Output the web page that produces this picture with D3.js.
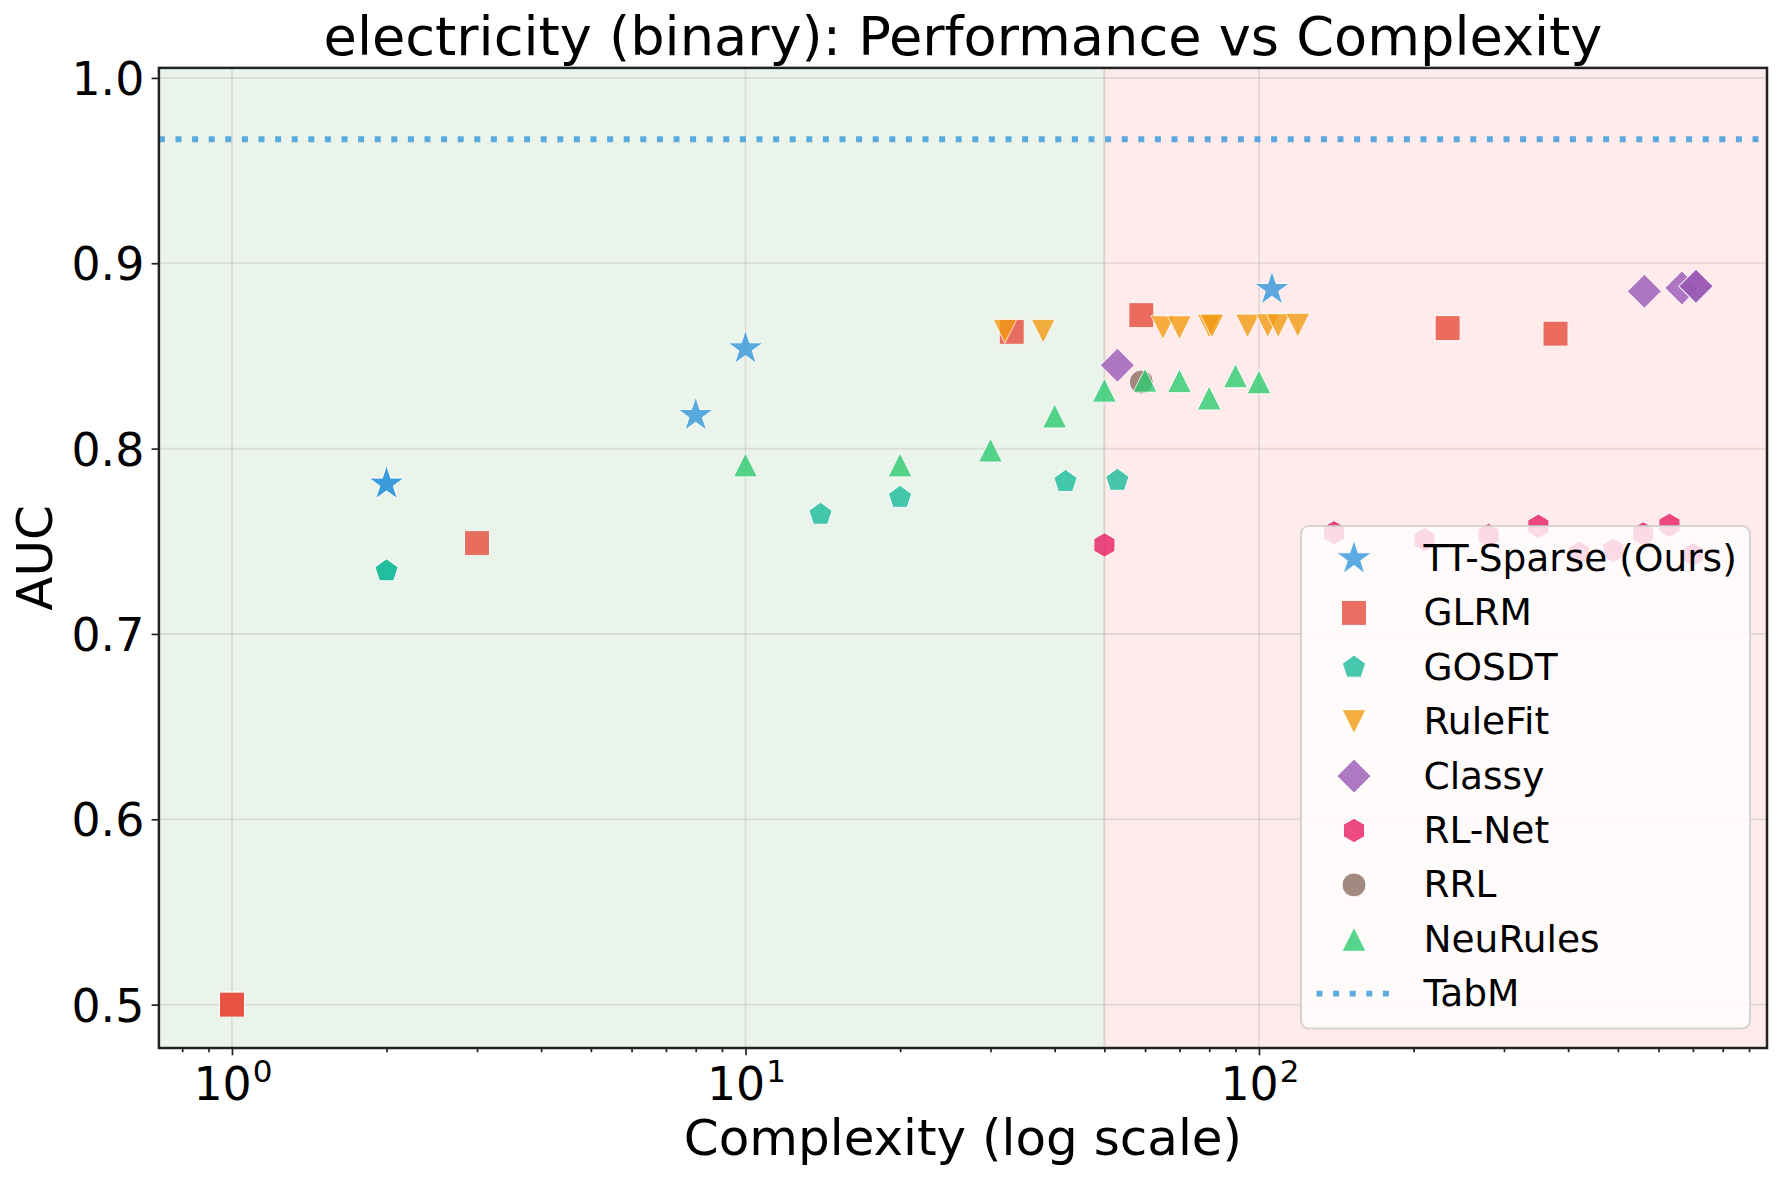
<!DOCTYPE html>
<html><head><meta charset="utf-8">
<script src="https://cdn.jsdelivr.net/npm/d3@7"></script>
<style>body{margin:0;background:#fff;} svg{display:block;font-family:"DejaVu Sans",sans-serif;}</style>
</head><body><svg id="chart" width="1783" height="1181"></svg>
<script>
// ---------- data ----------
const seriesNames = ["TT-Sparse (Ours)", "GLRM", "GOSDT", "RuleFit", "Classy", "RL-Net", "RRL", "NeuRules"];
const ttSparseX = [2, 2, 8, 10, 106];
const ttSparseY = [0.781, 0.781, 0.818, 0.854, 0.886];
const glrmX = [1, 1, 3, 33, 59, 233, 378];
const glrmY = [0.5, 0.5, 0.749, 0.863, 0.872, 0.865, 0.862];
const gosdtX = [2, 2, 14, 20, 42, 53];
const gosdtY = [0.734, 0.734, 0.7645, 0.7736, 0.7822, 0.7828];
const ruleFitX = [32, 38, 65, 70, 80, 81, 95, 104, 109, 119];
const ruleFitY = [0.8633, 0.8633, 0.8652, 0.8652, 0.8661, 0.8661, 0.8661, 0.8663, 0.8663, 0.8666];
const classyX = [53, 563, 666, 708, 710];
const classyY = [0.845, 0.8849, 0.8867, 0.8876, 0.8876];
const rlNetX = [50, 140, 210, 280, 350, 420, 490, 560, 630, 700];
const rlNetY = [0.748, 0.7546, 0.7509, 0.7532, 0.7581, 0.7435, 0.7451, 0.754, 0.7586, 0.7428];
const rrlX = [59];
const rrlY = [0.8359];
const neuRulesX = [10, 20, 30, 40, 50, 60, 70, 80, 90, 100];
const neuRulesY = [0.7912, 0.7912, 0.7992, 0.8176, 0.8315, 0.8369, 0.8366, 0.8273, 0.8393, 0.836];
const tabmLabel = "TabM";
const tabmAUC = 0.9669;
const xTickValues = [1, 10, 100];
const xTickExponents = ["0", "1", "2"];
const yTickValues = [0.5, 0.6, 0.7, 0.8, 0.9, 1.0];
const simpleThreshold = 50;
const titleText = "electricity (binary): Performance vs Complexity";
const xLabelText = "Complexity (log scale)";
const yLabelText = "AUC";

// ---------- styles ----------
const colors = ["#3498db", "#e74c3c", "#1abc9c", "#f39c12", "#9b59b6", "#e91e63", "#8d6e63", "#2ecc71"];
const shapes = ["star", "square", "pentagon", "tridown", "diamond", "hexagon", "circle", "triup"];
const seriesX = [ttSparseX, glrmX, gosdtX, ruleFitX, classyX, rlNetX, rrlX, neuRulesX];
const seriesY = [ttSparseY, glrmY, gosdtY, ruleFitY, classyY, rlNetY, rrlY, neuRulesY];

const L = 158.9, R = 1767, T = 67.9, B = 1048;
const svg = d3.select("#chart");
const x = d3.scaleLog().domain([0.7206, 975.7]).range([L, R]);
const y = d3.scaleLinear().domain([0.4766, 1.0054]).range([B, T]);

function poly(pts){ return "M" + pts.map(p => p[0].toFixed(2) + "," + p[1].toFixed(2)).join("L") + "Z"; }
function regular(n, r, start){
  const pts = [];
  for (let k = 0; k < n; k++){ const a = (start + k * 360 / n) * Math.PI / 180; pts.push([r * Math.cos(a), r * Math.sin(a)]); }
  return poly(pts);
}
function shapePath(s){
  switch(s){
    case "star": {
      const Ro = 18.5, Ri = Ro * 0.381966, pts = [];
      for (let k = 0; k < 10; k++){ const r = k % 2 ? Ri : Ro; const a = (-90 + k * 36) * Math.PI / 180; pts.push([r * Math.cos(a), r * Math.sin(a)]); }
      return poly(pts);
    }
    case "square": return poly([[-12.5,-12.5],[12.5,-12.5],[12.5,12.5],[-12.5,12.5]]);
    case "pentagon": return regular(5, 12.2, -90);
    case "hexagon": return regular(6, 12.2, -90);
    case "triup": return poly([[0,-12],[12,12],[-12,12]]);
    case "tridown": return poly([[0,12],[12,-12],[-12,-12]]);
    case "diamond": return poly([[0,-17],[17,0],[0,17],[-17,0]]);
    case "circle": return "M12,0A12,12 0 1,1 -12,0A12,12 0 1,1 12,0Z";
  }
}

// ---------- background spans ----------
svg.append("rect").attr("x", L).attr("y", T).attr("width", x(simpleThreshold) - L).attr("height", B - T).attr("fill", "#ebf4eb");
svg.append("rect").attr("x", x(simpleThreshold)).attr("y", T).attr("width", R - x(simpleThreshold)).attr("height", B - T).attr("fill", "#ffebeb");
svg.append("line").attr("x1", x(simpleThreshold)).attr("x2", x(simpleThreshold)).attr("y1", T).attr("y2", B)
  .attr("stroke", "#dcd4c6").attr("stroke-width", 2);

// ---------- grid ----------
const grid = svg.append("g");
grid.selectAll(".gx").data(xTickValues).join("line")
  .attr("x1", d => x(d)).attr("x2", d => x(d)).attr("y1", T).attr("y2", B)
  .attr("stroke", "#b0b0b0").attr("stroke-opacity", 0.35).attr("stroke-width", 1.7);
grid.selectAll(".gy").data(yTickValues).join("line")
  .attr("y1", d => y(d)).attr("y2", d => y(d)).attr("x1", L).attr("x2", R)
  .attr("stroke", "#b0b0b0").attr("stroke-opacity", 0.35).attr("stroke-width", 1.7);

// ---------- TabM line ----------
const tabDash = "6 10.6";
svg.append("line").attr("x1", L).attr("x2", R).attr("y1", y(tabmAUC)).attr("y2", y(tabmAUC))
  .attr("stroke", colors[0]).attr("stroke-opacity", 0.8).attr("stroke-width", 5.8).attr("stroke-dasharray", tabDash);

// ---------- markers ----------
svg.append("clipPath").attr("id", "plotclip").append("rect").attr("x", L).attr("y", T).attr("width", R - L).attr("height", B - T);
const marks = svg.append("g").attr("clip-path", "url(#plotclip)");
seriesNames.forEach((name, i) => {
  const pts = seriesX[i].map((v, j) => [v, seriesY[i][j]]);
  marks.append("g").selectAll("path").data(pts).join("path")
    .attr("d", shapePath(shapes[i]))
    .attr("transform", d => `translate(${x(d[0])},${y(d[1])})`)
    .attr("fill", colors[i]).attr("stroke", "#fff").attr("stroke-width", 1).attr("opacity", 0.8);
});

// ---------- axes ----------
const axisColor = "#222";
const xAxis = svg.append("g").attr("transform", `translate(0,${B})`)
  .call(d3.axisBottom(x).tickValues(xTickValues).tickSize(7.3).tickFormat(""));
const minorX = [];
[0.1, 1, 10, 100].forEach(dec => { for (let m = 2; m <= 9; m++){ const v = dec * m; if (v >= 0.7206 && v <= 975.7) minorX.push(v); } });
const xMinor = svg.append("g").attr("transform", `translate(0,${B})`)
  .call(d3.axisBottom(x).tickValues(minorX).tickSize(4.2).tickFormat(""));
[xAxis, xMinor].forEach(g => { g.select(".domain").remove(); g.selectAll("line").attr("stroke", axisColor).attr("stroke-width", 1.7); });
xTickValues.forEach((v, i) => {
  const t = svg.append("text").attr("x", x(v) + 1).attr("y", 1100).attr("text-anchor", "middle")
    .attr("font-size", 45.8).attr("fill", "#000");
  t.append("tspan").text("10");
  t.append("tspan").attr("dy", -18.3).attr("dx", 1).attr("font-size", 31).text(xTickExponents[i]);
});

const yAxis = svg.append("g").attr("transform", `translate(${L},0)`)
  .call(d3.axisLeft(y).tickValues(yTickValues).tickSize(7.3).tickPadding(7.3).tickFormat(d3.format(".1f")));
yAxis.select(".domain").remove();
yAxis.selectAll("line").attr("stroke", axisColor).attr("stroke-width", 1.7);
yAxis.selectAll("text").attr("font-size", 45.8).attr("font-family", "DejaVu Sans").attr("fill", "#000").attr("dy", "0.3645em");

// spines
svg.append("rect").attr("x", L).attr("y", T).attr("width", R - L).attr("height", B - T)
  .attr("fill", "none").attr("stroke", axisColor).attr("stroke-width", 2.5);

// ---------- labels ----------
svg.append("text").attr("x", (L + R) / 2).attr("y", 55).attr("text-anchor", "middle").attr("font-size", 54.2).text(titleText);
svg.append("text").attr("x", (L + R) / 2).attr("y", 1155).attr("text-anchor", "middle").attr("font-size", 50).text(xLabelText);
svg.append("text").attr("transform", `translate(52,${(T + B) / 2}) rotate(-90)`).attr("text-anchor", "middle").attr("font-size", 50).text(yLabelText);

// ---------- legend ----------
const lg = svg.append("g");
lg.append("rect").attr("x", 1301).attr("y", 526).attr("width", 449).attr("height", 502.6).attr("rx", 8)
  .attr("fill", "#fff").attr("fill-opacity", 0.8).attr("stroke", "#cccccc").attr("stroke-opacity", 0.8).attr("stroke-width", 2);
const legendNames = seriesNames.concat([tabmLabel]);
legendNames.forEach((name, i) => {
  const ry = 558.5 + i * 54.4;
  if (i < seriesNames.length){
    lg.append("path").attr("d", shapePath(shapes[i])).attr("transform", `translate(1354,${ry})`)
      .attr("fill", colors[i]).attr("stroke", "#fff").attr("stroke-width", 1).attr("opacity", 0.8);
  } else {
    lg.append("line").attr("x1", 1316.5).attr("x2", 1391.5).attr("y1", ry).attr("y2", ry)
      .attr("stroke", colors[0]).attr("stroke-opacity", 0.8).attr("stroke-width", 5.8).attr("stroke-dasharray", tabDash);
  }
  lg.append("text").attr("x", 1423.5).attr("y", ry + 12.5).attr("font-size", 37.5).text(name);
});
</script></body></html>
